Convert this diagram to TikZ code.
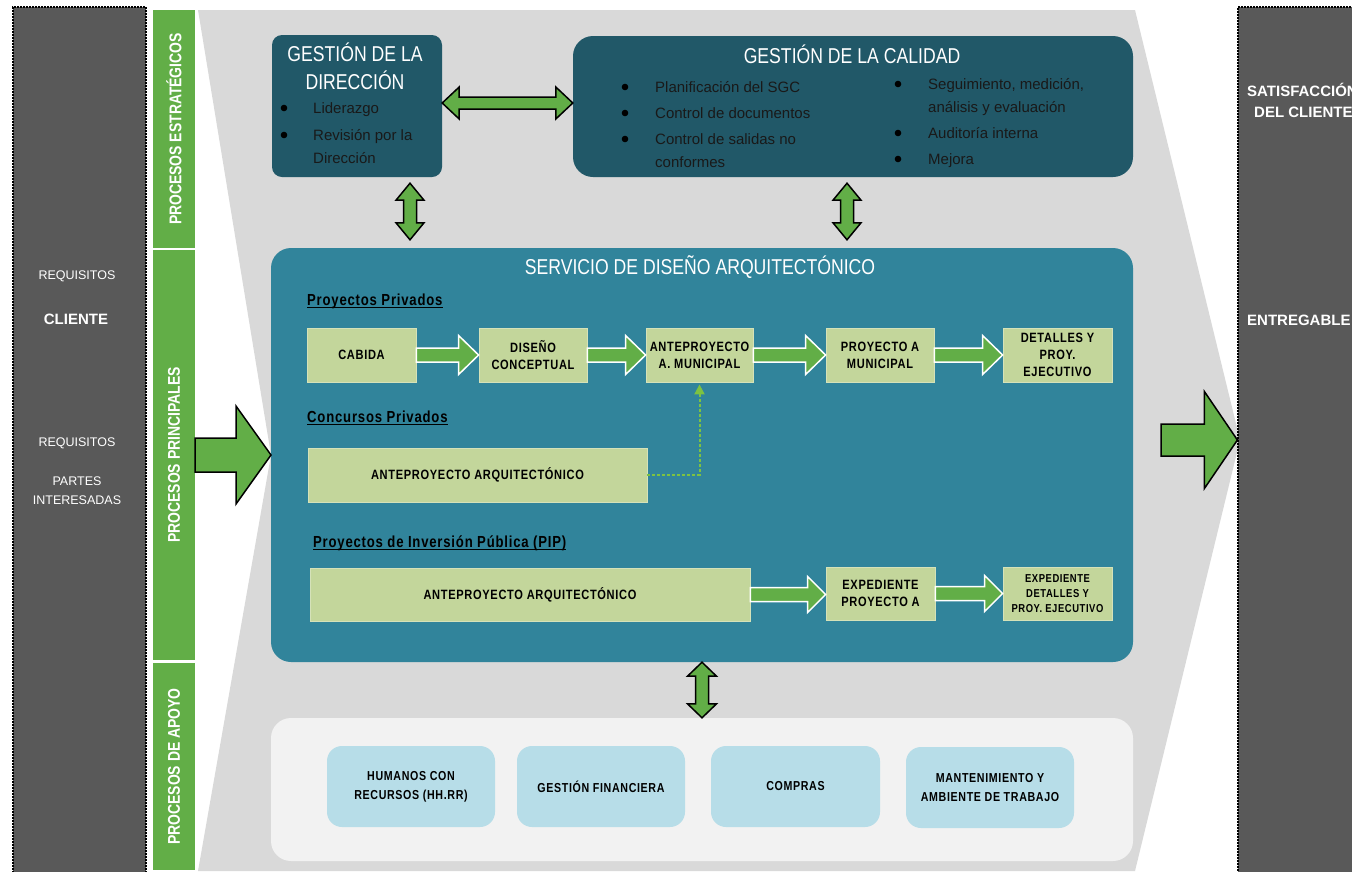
\documentclass[tikz,border=0pt]{standalone}
\usepackage{fontspec}
\setmainfont[FakeStretch=0.82]{Liberation Sans}
\newfontfamily\wide{Liberation Sans}
\newfontfamily\lbl[FakeStretch=0.82,LetterSpace=5]{Liberation Sans}
\usepackage{tikz}
\usetikzlibrary{arrows.meta}
\usetikzlibrary{calc}
\definecolor{panelgrey}{HTML}{595959}
\definecolor{bggrey}{HTML}{D9D9D9}
\definecolor{bargreen}{HTML}{62AE47}
\definecolor{darkteal}{HTML}{215868}
\definecolor{servteal}{HTML}{31849B}
\definecolor{olivebox}{HTML}{C3D69B}
\definecolor{lightblue}{HTML}{B7DDE8}
\definecolor{paleg}{HTML}{F2F2F2}
\definecolor{dashgreen}{HTML}{7DC242}
\newcommand\dotb{\hspace{1.5pt}\tikz[baseline=0pt]\fill[black] (0pt,5pt) circle (3.3pt);}
\newcommand\harr[6]{\draw[#1] let \p1=(#2), \p2=(#3) in (\x1,\y1+#4) -- (\x2-#6,\y1+#4) -- (\x2-#6,\y1+#5) -- (\x2,\y1) -- (\x2-#6,\y1-#5) -- (\x2-#6,\y1-#4) -- (\x1,\y1-#4) -- cycle;}
\newcommand\hdarr[6]{\draw[#1] let \p1=(#2), \p2=(#3) in (\x1,\y1) -- (\x1+#6,\y1+#5) -- (\x1+#6,\y1+#4) -- (\x2-#6,\y1+#4) -- (\x2-#6,\y1+#5) -- (\x2,\y1) -- (\x2-#6,\y1-#5) -- (\x2-#6,\y1-#4) -- (\x1+#6,\y1-#4) -- (\x1+#6,\y1-#5) -- cycle;}
\newcommand\vdarr[6]{\draw[#1] let \p1=(#2), \p2=(#3) in (\x1,\y1) -- (\x1+#5,\y1-#6) -- (\x1+#4,\y1-#6) -- (\x1+#4,\y2+#6) -- (\x1+#5,\y2+#6) -- (\x1,\y2) -- (\x1-#5,\y2+#6) -- (\x1-#4,\y2+#6) -- (\x1-#4,\y1-#6) -- (\x1-#5,\y1-#6) -- cycle;}
\tikzstyle{panel}=[draw=black,fill=panelgrey,line width=1.2pt,dash pattern=on 2pt off 1pt,minimum width=133pt,minimum height=868pt,inner sep=0pt]
\tikzstyle{bar}=[fill=bargreen,minimum width=42pt,inner sep=0pt]
\tikzstyle{bartext}=[rotate=90,text=white,inner sep=0pt,font=\bfseries\fontsize{17}{20}\selectfont]
\tikzstyle{darkbox}=[fill=darkteal,rounded corners=10pt,inner sep=0pt]
\tikzstyle{title}=[text=white,align=center,inner sep=0pt,font=\fontsize{21.5}{28}\selectfont]
\tikzstyle{bul}=[anchor=base west,inner sep=0pt,text=black!90,font=\wide\fontsize{15}{23}\selectfont]
\tikzstyle{side}=[text=white,align=center,inner sep=0pt,font=\wide\fontsize{12.5}{19}\selectfont]
\tikzstyle{sidebf}=[text=white,inner sep=0pt,font=\wide\bfseries\fontsize{15}{18}\selectfont]
\tikzstyle{stage}=[fill=olivebox,draw=olivebox!70!white,line width=.8pt,inner sep=0pt,align=center,font=\lbl\bfseries\fontsize{13.5}{17}\selectfont]
\tikzstyle{head}=[anchor=base west,inner sep=0pt,font=\lbl\bfseries\fontsize{16}{19}\selectfont]
\tikzstyle{support}=[fill=lightblue,rounded corners=15pt,minimum width=168pt,minimum height=81pt,inner sep=0pt,align=center,font=\lbl\bfseries\fontsize{13}{19}\selectfont]
\tikzstyle{blk}=[fill=bargreen,draw=white,line width=1.5pt]
\tikzstyle{blkk}=[fill=bargreen,draw=black,line width=1.5pt]

\begin{document}
\begin{tikzpicture}[x=1pt,y=-1pt]
	\useasboundingbox (0,0) rectangle (1352,871);
	\fill[bggrey] (198,10) -- (1135,10) -- (1240,440) -- (1135,871) -- (198,871) -- (271,455) -- cycle;
	\coordinate (notch) at (271,455);
	\coordinate (outS) at (1161,440);
	\node[panel] (cli) at (79.5,441) {};
	\node[panel,minimum width=170pt] (sat) at (1323,441) {};
	\node[bar,minimum height=238pt] (est) at (174,129) {};
	\node[bar,minimum height=410pt] (prin) at (174,455) {};
	\node[bar,minimum height=207pt] (apo) at (174,766.5) {};
	\node[bartext] (estT) at (est) {PROCESOS ESTRATÉGICOS};
	\node[bartext] (prinT) at (prin) {PROCESOS PRINCIPALES};
	\node[bartext] (apoT) at (apo) {PROCESOS DE APOYO};
	\node[side] (rq1) at (77,276) {REQUISITOS};
	\node[sidebf] (cliT) at (76,319) {CLIENTE};
	\node[side] (rq2) at (77,443) {REQUISITOS};
	\node[side] (pint) at (77,490.5) {PARTES\\INTERESADAS};
	\node[sidebf,anchor=west] (satT) at (1247,90) {SATISFACCIÓN};
	\node[sidebf,anchor=west] (delT) at (1254,112) {DEL CLIENTE};
	\node[sidebf,anchor=west] (entT) at (1247,320) {ENTREGABLE};
	\node[darkbox,minimum width=170pt,minimum height=142pt] (dir) at (357,106) {};
	\node[darkbox,rounded corners=20pt,minimum width=560pt,minimum height=141pt] (cal) at (853,106.5) {};
	\node[darkbox,fill=servteal,rounded corners=20pt,minimum width=862pt,minimum height=414pt] (serv) at (702,455) {};
	\node[darkbox,fill=paleg,rounded corners=20pt,minimum width=862pt,minimum height=143pt] (apoyo) at (702,789.5) {};
	\node[title] (dirT) at (355,66) {GESTIÓN DE LA\\DIRECCIÓN};
	\node[title] (calT) at (852,54) {GESTIÓN DE LA CALIDAD};
	\node[title] (servT) at (700,267) {SERVICIO DE DISEÑO ARQUITECTÓNICO};
	\node[bul] (dirL) at (279,113) {\begin{tabular}[t]{@{}p{34pt}@{}l@{}}\dotb&Liderazgo\\[4pt]\dotb&Revisión por la\\&Dirección\end{tabular}};
	\node[bul] (calL) at (620,92) {\begin{tabular}[t]{@{}p{35pt}@{}l@{}}\dotb&Planificación del SGC\\[3pt]\dotb&Control de documentos\\[3pt]\dotb&Control de salidas no\\&conformes\end{tabular}};
	\node[bul] (calR) at (893,89) {\begin{tabular}[t]{@{}p{35pt}@{}l@{}}\dotb&Seguimiento, medición,\\&análisis y evaluación\\[3pt]\dotb&Auditoría interna\\[3pt]\dotb&Mejora\end{tabular}};
	\node[head] (hPriv) at (307,305) {Proyectos Privados};
	\node[head] (hConc) at (307,422) {Concursos Privados};
	\node[head] (hPip) at (313,547) {Proyectos de Inversión Pública (PIP)};
	\foreach \h in {hPriv,hConc,hPip}
		\draw[line width=1.2pt] ([yshift=-2.5pt]\h.base west) -- ([yshift=-2.5pt]\h.base east);
	\node[stage,minimum width=109pt,minimum height=54pt] (cab) at (361.5,355) {CABIDA};
	\node[stage,minimum width=108pt,minimum height=54pt] (dcon) at (533,355) {DISEÑO\\CONCEPTUAL};
	\node[stage,minimum width=107pt,minimum height=54pt] (antep) at (699.5,355) {ANTEPROYECTO\\A. MUNICIPAL};
	\node[stage,minimum width=108pt,minimum height=54pt] (pmun) at (880,355) {PROYECTO A\\MUNICIPAL};
	\node[stage,minimum width=109pt,minimum height=54pt] (det) at (1057.5,355) {DETALLES Y\\PROY.\\EJECUTIVO};
	\node[stage,minimum width=339pt,minimum height=54pt] (conc) at (477.5,475) {ANTEPROYECTO ARQUITECTÓNICO};
	\node[stage,minimum width=440pt,minimum height=53pt] (pip) at (530,594.5) {ANTEPROYECTO ARQUITECTÓNICO};
	\node[stage,minimum width=109pt,minimum height=53pt] (exp1) at (880.5,593.5) {EXPEDIENTE\\PROYECTO A};
	\node[stage,minimum width=109pt,minimum height=53pt,font=\lbl\bfseries\fontsize{11.5}{15}\selectfont] (exp2) at (1057.5,593.5) {EXPEDIENTE\\DETALLES Y\\PROY. EJECUTIVO};
	\node[support] (hum) at (411,786.5) {HUMANOS CON\\RECURSOS (HH.RR)};
	\node[support] (fin) at (601,786.5) {GESTIÓN FINANCIERA};
	\node[support,minimum width=169pt] (com) at (795.5,786.5) {COMPRAS};
	\node[support] (man) at (990,787.5) {MANTENIMIENTO Y\\AMBIENTE DE TRABAJO};
	\harr{blk}{cab.east}{dcon.west}{7pt}{19.5pt}{20pt}
	\harr{blk}{dcon.east}{antep.west}{7pt}{19.5pt}{20pt}
	\harr{blk}{antep.east}{pmun.west}{7pt}{19.5pt}{20pt}
	\harr{blk}{pmun.east}{det.west}{7pt}{19.5pt}{20pt}
	\harr{blk}{pip.east}{exp1.west}{7pt}{18pt}{18pt}
	\harr{blk}{exp1.east}{exp2.west}{7pt}{18pt}{18pt}
	\harr{blkk}{prin.east}{notch}{17pt}{49pt}{35pt}
	\harr{blkk}{outS}{sat.west}{16pt}{48.5pt}{33pt}
	\hdarr{blkk}{[yshift=3pt]dir.east}{cal.west}{6pt}{16pt}{17pt}
	\vdarr{blkk}{[xshift=53pt,yshift=-6pt]dir.south}{[yshift=8pt]serv.north}{6.5pt}{14pt}{17pt}
	\vdarr{blkk}{[xshift=-6pt,yshift=-6pt]cal.south}{[yshift=8pt]serv.north}{6.5pt}{14pt}{17pt}
	\vdarr{blkk}{serv.south}{apoyo.north}{6.5pt}{14.5pt}{14pt}
	\draw[dashgreen,line width=2pt,dash pattern=on 3pt off 2pt,-{Triangle[length=10pt,width=10pt]}] (conc.east) -| ([yshift=-2pt]antep.south);
\end{tikzpicture}
\end{document}
